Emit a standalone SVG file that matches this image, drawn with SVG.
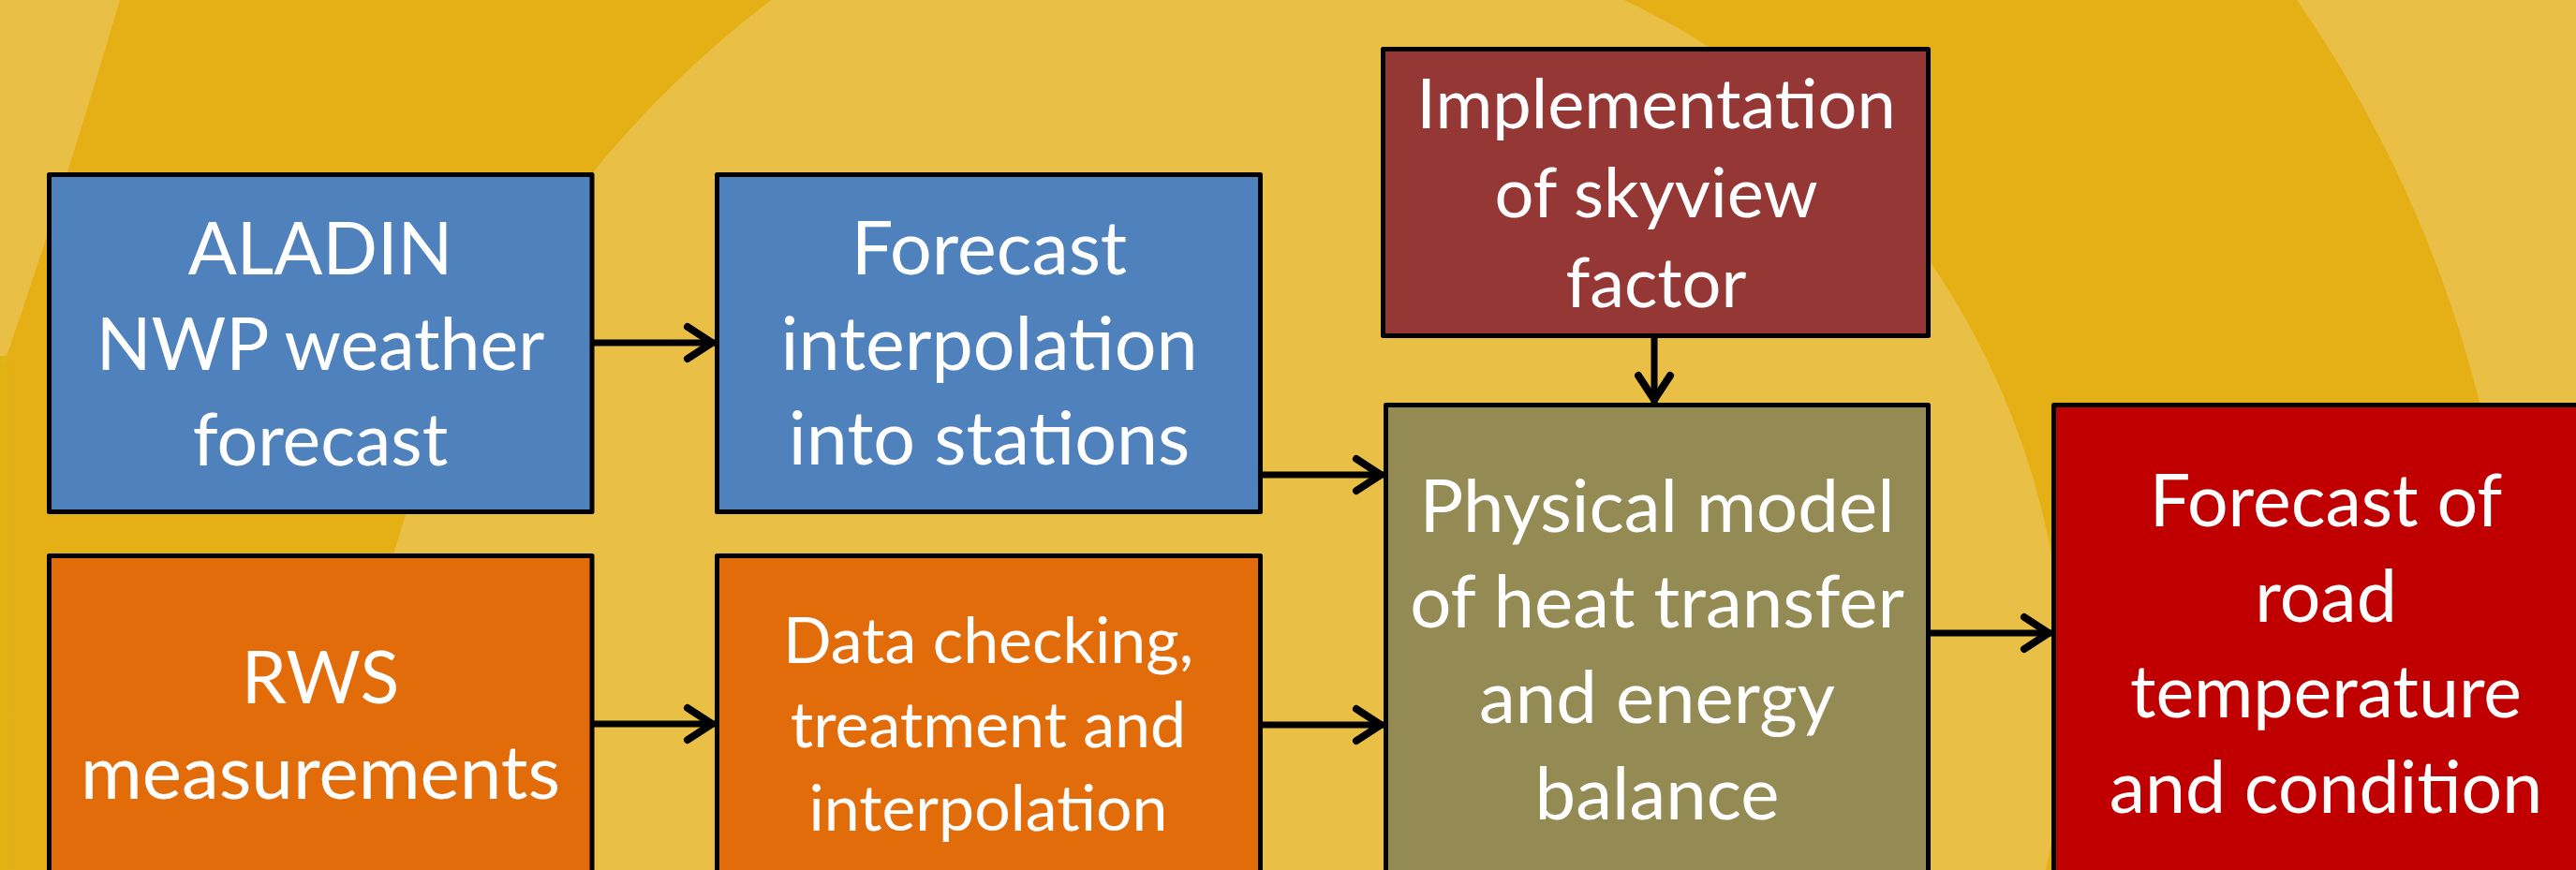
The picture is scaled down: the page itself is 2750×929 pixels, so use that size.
<svg xmlns="http://www.w3.org/2000/svg" width="2750" height="929" viewBox="0 0 2750 929">
<style>
.box{stroke:#000;stroke-width:5;stroke-linejoin:round}
.t{font-family:Lato,"Open Sans","Liberation Sans",sans-serif;fill:#fff;text-anchor:middle;font-size:77px}
.i{font-size:79px}
.s{font-size:68px}
.m{font-size:74px}
.p{font-size:78px}
.con{stroke:#000;stroke-width:7;fill:none;marker-end:url(#ah)}
</style>
<defs>
<marker id="ah" markerUnits="userSpaceOnUse" markerWidth="40" markerHeight="40" refX="0" refY="0" orient="auto" overflow="visible">
<path d="M -29 -17 L -3 0 L -29 17" fill="none" stroke="#000" stroke-width="8" stroke-linecap="round" stroke-linejoin="miter"/>
</marker>
<linearGradient id="edge" x1="0" y1="0" x2="1" y2="0">
<stop offset="0" stop-color="#DDB312"/>
<stop offset="1" stop-color="#E5B016" stop-opacity="0"/>
</linearGradient>
</defs>
<g id="background">
<rect x="0" y="0" width="2750" height="929" fill="#EABF46"/>
<path d="M 0 0 L 823 0 A 1136 1136 0 0 0 377 929 L 0 929 Z" fill="#E5B016"/>
<path d="M 0 0 L 128 0 Q 60 230 0 400 Z" fill="#EABF46"/>
<rect x="0" y="380" width="24" height="549" fill="url(#edge)"/>
<path d="M 1734 0 A 826 826 0 0 1 2184 929 L 2673 929 A 1307 1307 0 0 0 2452 0 Z" fill="#E5B016"/>
</g>
<g id="connectors">
<line class="con" x1="634" y1="366" x2="763" y2="366"/>
<line class="con" x1="1348" y1="507" x2="1477" y2="507"/>
<line class="con" x1="634" y1="773" x2="763" y2="773"/>
<line class="con" x1="1348" y1="774" x2="1477" y2="774"/>
<line class="con" x1="1766" y1="361" x2="1766" y2="430"/>
<line class="con" x1="2061" y1="676" x2="2190" y2="676"/>
</g>
<g id="aladin">
<rect class="box" x="52.5" y="186.5" width="579.5" height="360" fill="#4F81BD"/>
<text class="t" x="342" y="293">ALADIN</text>
<text class="t" x="342" y="395">NWP weather</text>
<text class="t" x="342" y="497">forecast</text>
</g>
<g id="interp">
<rect class="box" x="765.5" y="186.5" width="580" height="360" fill="#4F81BD"/>
<text class="t i" x="1056" y="293">Forecast</text>
<text class="t i" x="1056" y="395">interpolation</text>
<text class="t i" x="1056" y="496">into stations</text>
</g>
<g id="rws">
<rect class="box" x="52.5" y="593.5" width="579.5" height="400" fill="#E36C0A"/>
<text class="t" x="342" y="751">RWS</text>
<text class="t" x="342" y="853" style="font-size:80px">measurements</text>
</g>
<g id="datacheck">
<rect class="box" x="765.5" y="593.5" width="580" height="400" fill="#E36C0A"/>
<text class="t s" x="1055" y="708">Data checking,</text>
<text class="t s" x="1055" y="798">treatment and</text>
<text class="t s" x="1055" y="887">interpolation</text>
</g>
<g id="skyview">
<rect class="box" x="1476.5" y="52.5" width="582" height="306" fill="#953735"/>
<text class="t m" x="1768" y="137">Implementation</text>
<text class="t m" x="1768" y="232">of skyview</text>
<text class="t m" x="1768" y="328">factor</text>
</g>
<g id="physical">
<rect class="box" x="1479.5" y="432.5" width="579" height="600" fill="#948A54"/>
<text class="t p" x="1769" y="568">Physical model</text>
<text class="t p" x="1769" y="670">of heat transfer</text>
<text class="t p" x="1769" y="772">and energy</text>
<text class="t p" x="1769" y="875">balance</text>
</g>
<g id="result">
<rect class="box" x="2192.5" y="432.5" width="585" height="600" fill="#C00000"/>
<text class="t" x="2483" y="562">Forecast of</text>
<text class="t" x="2483" y="664">road</text>
<text class="t" x="2483" y="766">temperature</text>
<text class="t" x="2483" y="868">and condition</text>
</g>
</svg>
